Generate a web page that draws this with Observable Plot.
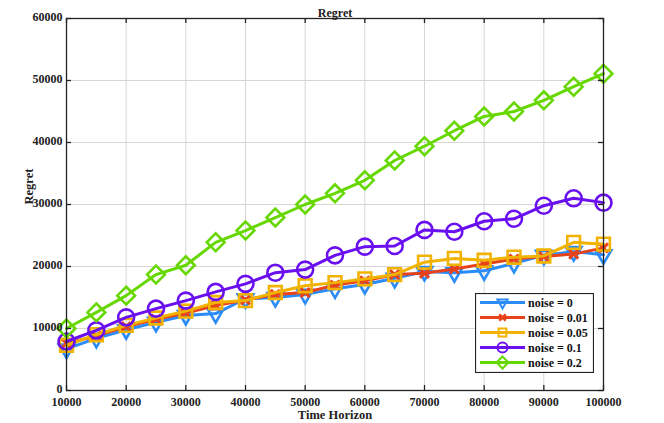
<!DOCTYPE html>
<html>
<head>
<meta charset="utf-8">
<script src="https://cdn.jsdelivr.net/npm/d3@7"></script>
<script src="https://cdn.jsdelivr.net/npm/@observablehq/plot@0.6"></script>
<style>
  html, body { margin: 0; padding: 0; background: #fff; }
  #wrap { position: relative; width: 664px; height: 423px; font-family: "Liberation Serif", "Times New Roman", "DejaVu Serif", serif; }
  #wrap svg text { font-family: "Liberation Serif", "Times New Roman", "DejaVu Serif", serif !important; font-weight: bold; }
  #legend { position: absolute; left: 475px; top: 293px; }
</style>
</head>
<body>
<div id="wrap"></div>
<script>
// ---- data ----
const horizons = [10000,15000,20000,25000,30000,35000,40000,45000,50000,55000,60000,65000,70000,75000,80000,85000,90000,95000,100000];
const noise0   = [6700,8400,9800,11000,12100,12400,14800,15000,15500,16400,17100,18100,19200,19000,19300,20500,21800,22400,21900];
const noise001 = [7600,8800,10300,11500,12500,13700,14600,15500,15800,17000,17700,18700,18900,19600,20400,21200,21600,22000,23000];
const noise005 = [7300,9000,10500,11700,12800,14200,14500,15800,16900,17400,18000,18700,20700,21300,21000,21500,21700,23900,23600];
const noise01  = [7900,9700,11800,13200,14500,15900,17200,19000,19500,21800,23200,23300,25900,25600,27300,27700,29800,31000,30300];
const noise02  = [10000,12600,15300,18700,20200,23900,25800,27900,30000,31800,33900,37100,39400,41900,44200,45000,46800,49000,51100];
const seriesNames = ["noise = 0","noise = 0.01","noise = 0.05","noise = 0.1","noise = 0.2"];
const xTicks = [10000,20000,30000,40000,50000,60000,70000,80000,90000,100000];
const yTicks = [0,10000,20000,30000,40000,50000,60000];

// ---- styles ----
const seriesValues = [noise0, noise001, noise005, noise01, noise02];
const colors  = ["#2b8cf8","#e8421a","#f2b200","#6a10f0","#66d800"];
const symbols = ["triangle","times","square","circle","diamond2"];
const radii   = [5.8, 4.2, 7.2, 8, 8];
const rotates = [180, 0, 0, 0, 0];
const serif = "'Liberation Serif', 'Times New Roman', 'DejaVu Serif', serif";

const W = 664, H = 423;
const mL = 66, mR = 61, mT = 18, mB = 33;
const plotH = H - mT - mB, plotW = W - mL - mR;

const marks = [
  Plot.gridX(xTicks, {stroke: "#d6d6d6", strokeOpacity: 1, strokeWidth: 1}),
  Plot.gridY(yTicks, {stroke: "#d6d6d6", strokeOpacity: 1, strokeWidth: 1})
];
seriesValues.forEach((vals, i) => {
  const rows = horizons.map((h, j) => ({h, v: vals[j]}));
  marks.push(Plot.line(rows, {x: "h", y: "v", stroke: colors[i], strokeWidth: 3}));
  marks.push(Plot.dot(rows, {x: "h", y: "v", symbol: symbols[i], r: radii[i], rotate: rotates[i],
    stroke: colors[i], strokeWidth: i === 1 ? 3 : 2.6, fill: "none"}));
});
marks.push(
  Plot.frame({stroke: "#222", strokeWidth: 1.3}),
  Plot.tickX(xTicks, {x: d => d, insetTop: plotH - 5, stroke: "#222", strokeWidth: 1.3}),
  Plot.tickX(xTicks, {x: d => d, insetBottom: plotH - 5, stroke: "#222", strokeWidth: 1.3}),
  Plot.tickY(yTicks, {y: d => d, insetRight: plotW - 5, stroke: "#222", strokeWidth: 1.3}),
  Plot.tickY(yTicks, {y: d => d, insetLeft: plotW - 5, stroke: "#222", strokeWidth: 1.3}),
  Plot.axisX({ticks: xTicks, tickSize: 0, tickPadding: 7, tickFormat: d3.format("d"), label: null, fontFamily: serif}),
  Plot.axisY({ticks: yTicks, tickSize: 0, tickPadding: 4, dy: -1.5, tickFormat: d3.format("d"), label: null, fontFamily: serif}),
  Plot.text(["Time Horizon"], {frameAnchor: "bottom", dy: 28, text: d => d, fontSize: 12.5, fontWeight: "bold", fontFamily: serif}),
  Plot.text(["Regret"], {frameAnchor: "left", dx: -38, rotate: -90, text: d => d, fontSize: 12.5, fontWeight: "bold", fontFamily: serif}),
  Plot.text(["Regret"], {frameAnchor: "top", dy: -10, text: d => d, fontSize: 12, fontWeight: "bold", fontFamily: serif})
);

const chart = Plot.plot({
  width: W, height: H,
  marginLeft: mL, marginRight: mR, marginTop: mT, marginBottom: mB,
  x: {domain: [10000, 100000]},
  y: {domain: [0, 60000]},
  style: {fontFamily: serif, fontWeight: "bold", fontSize: "12px", color: "#222", background: "#fff"},
  marks
});
document.getElementById("wrap").appendChild(chart);

// ---- legend ----
const lw = 118, lh = 79, rowGap = 15, row0 = 9.5;
const leg = d3.select("#wrap").append("svg").attr("id", "legend").attr("width", lw + 1).attr("height", lh + 1);
leg.append("rect").attr("x", 0.5).attr("y", 0.5).attr("width", lw).attr("height", lh)
  .attr("fill", "#fff").attr("stroke", "#222").attr("stroke-width", 1.2);
const d3sym = {triangle: d3.symbolTriangle, times: d3.symbolTimes, square: d3.symbolSquare, circle: d3.symbolCircle, diamond2: d3.symbolDiamond2};
const legR = [3.8, 3, 4.4, 5, 5.4];
seriesNames.forEach((name, i) => {
  const y = row0 + i * rowGap;
  const g = leg.append("g");
  g.append("line").attr("x1", 5).attr("x2", 50).attr("y1", y).attr("y2", y)
    .attr("stroke", colors[i]).attr("stroke-width", 3);
  g.append("path").attr("d", d3.symbol(d3sym[symbols[i]], Math.PI * legR[i] * legR[i])())
    .attr("transform", `translate(27.5,${y}) rotate(${rotates[i]})`)
    .attr("fill", "none").attr("stroke", colors[i]).attr("stroke-width", i === 1 ? 2.6 : 2);
  g.append("text").attr("x", 53).attr("y", y).attr("dy", "0.35em").text(name)
    .attr("font-family", serif).attr("font-weight", "bold")
    .attr("font-size", 12).attr("fill", "#111");
});
</script>
</body>
</html>
